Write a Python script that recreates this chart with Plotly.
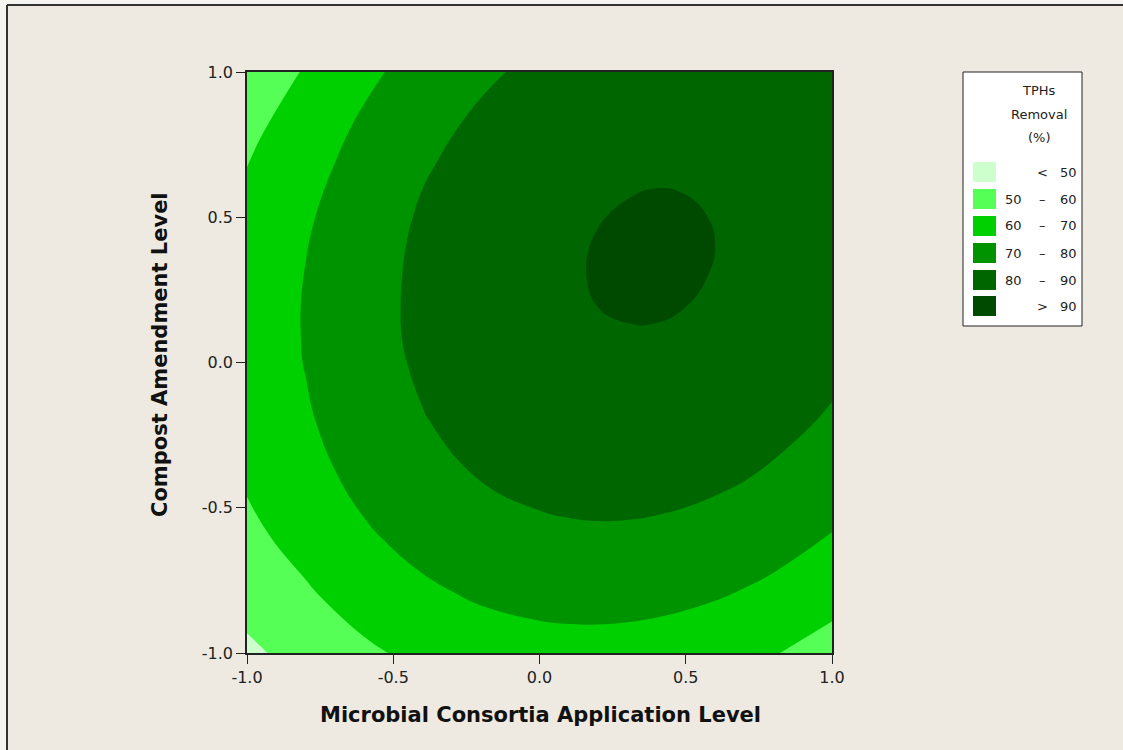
import plotly.graph_objects as go

# ---------------- data ----------------
microbial_level = [-1.0, -0.8, -0.6, -0.4, -0.2, 0.0, 0.1, 0.2, 0.3, 0.4, 0.5, 0.6, 0.7, 0.8, 1.0]
compost_level = [-1.0, -0.8, -0.6, -0.4, -0.2, 0.0, 0.1, 0.2, 0.3, 0.4, 0.5, 0.6, 0.7, 0.8, 1.0]

# TPHs removal (%) estimated on the grid; rows = compost level, cols = microbial level
tph_removal = [
    [48.2, 53.3, 58.4, 62.3, 65.0, 66.5, 66.8, 66.8, 66.5, 65.9, 65.0, 63.8, 62.3, 60.5, 56.0],
    [53.5, 58.8, 64.1, 68.2, 71.1, 72.8, 73.2, 73.3, 73.1, 72.6, 71.8, 70.7, 69.3, 67.7, 63.4],
    [57.8, 63.3, 68.8, 73.1, 76.2, 78.1, 78.6, 78.8, 78.7, 78.3, 77.6, 76.6, 75.3, 73.7, 69.6],
    [61.0, 66.7, 72.4, 76.9, 80.2, 82.3, 82.9, 83.2, 83.2, 82.9, 82.3, 81.4, 80.2, 78.7, 74.8],
    [63.1, 69.0, 74.9, 79.6, 83.1, 85.5, 86.2, 86.6, 86.7, 86.5, 86.0, 85.2, 84.1, 82.7, 79.0],
    [64.2, 70.3, 76.4, 81.3, 85.0, 87.5, 88.3, 88.8, 89.0, 88.9, 88.5, 87.8, 86.9, 85.6, 82.1],
    [64.3, 70.5, 76.8, 81.8, 85.6, 88.2, 89.0, 89.6, 89.8, 89.8, 89.4, 88.8, 87.8, 86.6, 83.2],
    [64.2, 70.5, 76.8, 81.9, 85.8, 88.5, 89.4, 90.05, 90.36, 90.36, 90.06, 89.46, 88.6, 87.4, 84.1],
    [63.8, 70.2, 76.6, 81.8, 85.8, 88.7, 89.6, 90.26, 90.61, 90.67, 90.42, 89.87, 89.0, 87.9, 84.7],
    [63.2, 69.7, 76.2, 81.5, 85.6, 88.5, 89.5, 90.2, 90.61, 90.71, 90.51, 90.02, 89.2, 88.1, 85.0],
    [62.2, 68.9, 75.5, 80.9, 85.1, 88.1, 89.1, 89.88, 90.33, 90.49, 90.34, 89.89, 89.1, 88.1, 85.1],
    [61.1, 67.8, 74.5, 79.97, 84.3, 87.4, 88.5, 89.3, 89.8, 90.0, 89.9, 89.5, 88.8, 87.8, 84.9],
    [59.6, 66.4, 73.2, 78.8, 83.2, 86.4, 87.6, 88.4, 89.0, 89.2, 89.2, 88.8, 88.2, 87.3, 84.5],
    [57.9, 64.8, 71.7, 77.4, 81.9, 85.2, 86.4, 87.3, 87.9, 88.2, 88.2, 87.9, 87.3, 86.4, 83.7],
    [53.6, 60.7, 67.9, 73.8, 78.5, 82.0, 83.3, 84.3, 85.0, 85.4, 85.5, 85.3, 84.8, 84.0, 81.5],
]

level_start = 50
level_end = 90
level_step = 10
band_colors = ["#CCFFCC", "#55FF55", "#00D000", "#009300", "#006600", "#004A00"]
legend_low = ["", "50", "60", "70", "80", ""]
legend_sep = ["<", "\u2013", "\u2013", "\u2013", "\u2013", ">"]
legend_high = ["50", "60", "70", "80", "90", "90"]
legend_title = ["TPHs", "Removal", "(%)"]

tick_vals = [-1.0, -0.5, 0.0, 0.5, 1.0]
tick_text = ["-1.0", "-0.5", "0.0", "0.5", "1.0"]
x_title = "Microbial Consortia Application Level"
y_title = "Compost Amendment Level"

# ---------------- layout geometry (pixels) ----------------
W, H = 1123, 750
L, R, T, B = 247, 832, 72, 653
BG = "#EEEAE1"
FONT = "DejaVu Sans"


def px(xp):
    return (xp - L) / (R - L)


def py(yp):
    return (B - yp) / (B - T)


colorscale = [[i / (len(band_colors) - 1), c] for i, c in enumerate(band_colors)]

fig = go.Figure()
fig.add_trace(
    go.Contour(
        x=microbial_level,
        y=compost_level,
        z=tph_removal,
        contours=dict(start=level_start, end=level_end, size=level_step,
                      coloring="fill", showlines=False),
        colorscale=colorscale,
        showscale=False,
        line=dict(width=0, smoothing=1.3),
        hoverinfo="skip",
    )
)

axis_common = dict(
    range=[-1, 1],
    tickvals=tick_vals,
    ticktext=tick_text,
    ticks="outside",
    ticklen=9,
    tickwidth=1,
    tickcolor="#222",
    showline=True,
    linecolor="#222",
    linewidth=1.5,
    mirror=True,
    showgrid=False,
    zeroline=False,
    tickfont=dict(family=FONT, size=16, color="#222"),
)
fig.update_xaxes(**axis_common)
fig.update_yaxes(**axis_common)

shapes = []
annotations = []

# axis titles
annotations.append(dict(x=px(540), y=py(715), xref="paper", yref="paper",
                        text="<b>" + x_title + "</b>", showarrow=False,
                        xanchor="center", yanchor="middle",
                        font=dict(family=FONT, size=21, color="#111")))
annotations.append(dict(x=px(160), y=py(355), xref="paper", yref="paper",
                        text="<b>" + y_title + "</b>", showarrow=False, textangle=-90,
                        xanchor="center", yanchor="middle",
                        font=dict(family=FONT, size=21, color="#111")))

# legend box
shapes.append(dict(type="rect", xref="paper", yref="paper",
                   x0=px(963), x1=px(1082), y0=py(72), y1=py(326),
                   fillcolor="white", line=dict(color="#222", width=1)))
title_y = [91, 114, 137]
for t, yy in zip(legend_title, title_y):
    annotations.append(dict(x=px(1039), y=py(yy), xref="paper", yref="paper",
                            text=t, showarrow=False, xanchor="center", yanchor="middle",
                            font=dict(family=FONT, size=13, color="#222")))
row_y = [172, 199, 226, 253, 280, 306]
for i, yy in enumerate(row_y):
    shapes.append(dict(type="rect", xref="paper", yref="paper",
                       x0=px(973), x1=px(996), y0=py(yy - 10), y1=py(yy + 10),
                       fillcolor=band_colors[i], line=dict(width=0)))
    if legend_low[i]:
        annotations.append(dict(x=px(1013), y=py(yy), xref="paper", yref="paper",
                                text=legend_low[i], showarrow=False, xanchor="center",
                                yanchor="middle",
                                font=dict(family=FONT, size=13, color="#222")))
    annotations.append(dict(x=px(1042), y=py(yy), xref="paper", yref="paper",
                            text=legend_sep[i], showarrow=False, xanchor="center",
                            yanchor="middle",
                            font=dict(family=FONT, size=13, color="#222")))
    annotations.append(dict(x=px(1068), y=py(yy), xref="paper", yref="paper",
                            text=legend_high[i], showarrow=False, xanchor="center",
                            yanchor="middle",
                            font=dict(family=FONT, size=13, color="#222")))

# window frame: light outer strip and dark top / left edges
shapes.append(dict(type="rect", xref="paper", yref="paper",
                   x0=px(0), x1=px(7), y0=py(0), y1=py(750),
                   fillcolor="#F6F4F0", line=dict(width=0)))
shapes.append(dict(type="rect", xref="paper", yref="paper",
                   x0=px(0), x1=px(1123), y0=py(0), y1=py(5),
                   fillcolor="#F6F4F0", line=dict(width=0)))
shapes.append(dict(type="line", xref="paper", yref="paper",
                   x0=px(7), x1=px(7), y0=py(5), y1=py(750), line=dict(color="#333", width=2)))
shapes.append(dict(type="line", xref="paper", yref="paper",
                   x0=px(7), x1=px(1123), y0=py(5), y1=py(5), line=dict(color="#333", width=2)))

fig.update_layout(
    width=W,
    height=H,
    margin=dict(l=L, r=W - R, t=T, b=H - B),
    paper_bgcolor=BG,
    plot_bgcolor=BG,
    showlegend=False,
    shapes=shapes,
    annotations=annotations,
)

fig.write_html("out.html",
               config={"displayModeBar": False},
               post_script="document.body.style.margin='0';document.body.style.overflow='hidden';")
